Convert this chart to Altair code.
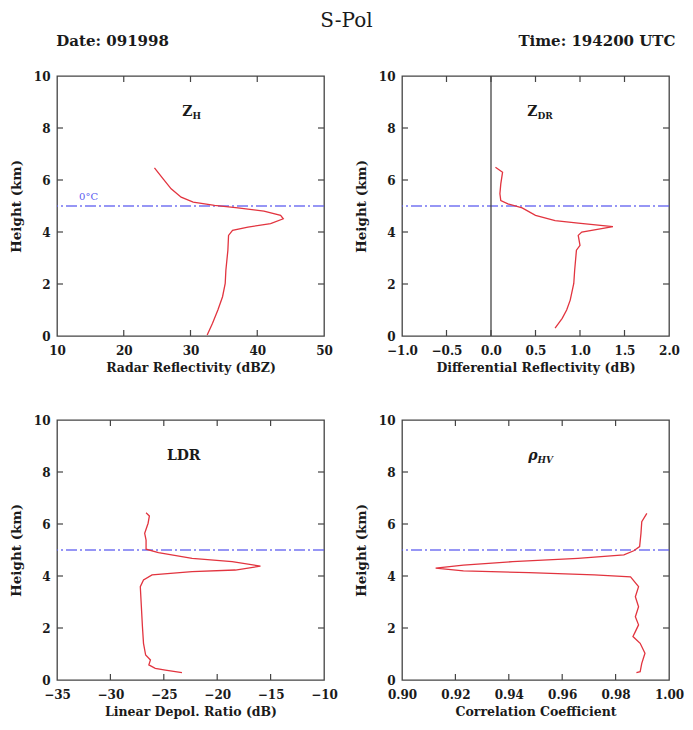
import altair as alt
import pandas as pd

# ---------------- data ----------------
zh_height = [6.47, 6.04, 5.66, 5.34, 5.15, 5.02, 4.93, 4.80, 4.64, 4.51, 4.32, 4.19, 4.06, 3.87, 3.30, 2.53, 2.02, 1.51, 1.00, 0.49, 0.04]
zh_value = [24.6, 25.9, 27.1, 28.6, 30.4, 33.6, 37.1, 41.0, 43.5, 43.9, 42.0, 38.6, 36.3, 35.7, 35.6, 35.3, 35.2, 34.8, 34.1, 33.3, 32.5]

zdr_height = [6.49, 6.30, 5.85, 5.47, 5.21, 5.08, 4.93, 4.64, 4.44, 4.34, 4.21, 4.00, 3.87, 3.49, 3.30, 2.53, 2.02, 1.38, 1.00, 0.68, 0.30]
zdr_value = [0.05, 0.13, 0.11, 0.10, 0.11, 0.19, 0.35, 0.50, 0.72, 0.98, 1.37, 1.02, 0.98, 1.00, 0.96, 0.94, 0.93, 0.89, 0.85, 0.80, 0.72]

ldr_height = [6.43, 6.31, 6.03, 5.64, 5.38, 5.03, 4.90, 4.68, 4.55, 4.38, 4.23, 4.17, 4.04, 3.85, 3.59, 2.82, 2.05, 1.41, 0.96, 0.77, 0.58, 0.45, 0.38, 0.28]
ldr_value = [-26.66, -26.35, -26.47, -26.79, -26.66, -26.66, -25.5, -22.35, -18.6, -15.95, -18.3, -22.35, -26.1, -26.9, -27.2, -27.1, -27.0, -26.9, -26.7, -26.25, -26.4, -25.8, -24.85, -23.3]

rho_height = [6.41, 6.09, 5.64, 5.13, 4.97, 4.81, 4.68, 4.55, 4.42, 4.30, 4.20, 4.13, 4.04, 3.97, 3.59, 3.20, 2.82, 2.43, 2.12, 1.86, 1.67, 1.41, 1.03, 0.64, 0.32, 0.28]
rho_value = [0.9917, 0.9898, 0.9895, 0.9890, 0.9868, 0.9831, 0.9659, 0.9414, 0.9230, 0.9126, 0.9230, 0.9475, 0.9720, 0.9856, 0.9886, 0.9874, 0.9886, 0.9874, 0.9886, 0.9874, 0.9865, 0.9892, 0.9910, 0.9898, 0.9892, 0.9878]

height_ticks = [0, 2, 4, 6, 8, 10]
zh_ticks = [10, 20, 30, 40, 50]
zdr_ticks = [-1.0, -0.5, 0.0, 0.5, 1.0, 1.5, 2.0]
ldr_ticks = [-35, -30, -25, -20, -15, -10]
rho_ticks = [0.90, 0.92, 0.94, 0.96, 0.98, 1.00]

freezing_level = 5.0

title_text = "S-Pol"
date_text = "Date: 091998"
time_text = "Time: 194200 UTC"

# ---------------- style ----------------
W, H = 267, 260
FONT = "DejaVu Serif"
RED = "#e2343f"
BLUE = "#5a5cf0"
INK = "#444444"
TXT = "#1a1a1a"
TICK_PX = 6


def tick_frame(xmin, xmax, xticks, yticks):
    lx = (xmax - xmin) * TICK_PX / W
    ly = 10 * TICK_PX / H
    rows = []
    for v in xticks[1:-1]:
        rows.append(dict(x=v, x2=v, y=0, y2=ly))
        rows.append(dict(x=v, x2=v, y=10, y2=10 - ly))
    for v in yticks[1:-1]:
        rows.append(dict(x=xmin, x2=xmin + lx, y=v, y2=v))
        rows.append(dict(x=xmax, x2=xmax - lx, y=v, y2=v))
    return pd.DataFrame(rows)


def panel(values, heights, xticks, xfmt, xtitle, label, sub, italic=False,
          zero_line=False, freeze_label=False, title=None):
    xmin, xmax = xticks[0], xticks[-1]
    xs = alt.Scale(domain=[xmin, xmax], nice=False, zero=False)
    ys = alt.Scale(domain=[0, 10], nice=False, zero=False)
    xax = alt.Axis(values=xticks, format=xfmt, title=xtitle, ticks=False, domain=False,
                   grid=False, labelPadding=9, titlePadding=5, labelFont=FONT,
                   titleFont=FONT, labelFontSize=12, titleFontSize=12.5,
                   labelFontWeight="bold", titleFontWeight="bold",
                   labelColor=TXT, titleColor=TXT,
                   labelFlush=False, labelOverlap=False)
    yax = alt.Axis(values=height_ticks, format="d", title="Height (km)", ticks=False,
                   domain=False, grid=False, labelPadding=7, titlePadding=10,
                   labelFont=FONT, titleFont=FONT, labelFontSize=12, titleFontSize=13.5,
                   labelFontWeight="bold", titleFontWeight="bold",
                   labelColor=TXT, titleColor=TXT, labelFlush=False)
    X = lambda f: alt.X(f, scale=xs, axis=xax)
    Y = lambda f: alt.Y(f, scale=ys, axis=yax)

    df = pd.DataFrame({"x": values, "y": heights, "idx": range(len(values))})
    line = alt.Chart(df).mark_line(color=RED, strokeWidth=1.3).encode(
        x=X("x:Q"), y=Y("y:Q"), order="idx:Q")

    tdf = tick_frame(xmin, xmax, xticks, height_ticks)
    ticks = alt.Chart(tdf).mark_rule(color=INK, strokeWidth=1.2).encode(
        x=X("x:Q"), x2="x2:Q", y=Y("y:Q"), y2="y2:Q")

    fdf = pd.DataFrame({"y": [freezing_level]})
    freeze = alt.Chart(fdf).mark_rule(color=BLUE, strokeWidth=1.4, opacity=0.85,
                                      strokeDash=[11, 3, 2, 3]).encode(y=Y("y:Q"))

    lab = pd.DataFrame({"a": [0]})
    main_txt = alt.Chart(lab).mark_text(
        text=label, font=FONT, fontSize=14, align="right", baseline="alphabetic",
        fontStyle="italic" if italic else "normal", fontWeight="bold", color=TXT
    ).encode(x=alt.value(W / 2 + (2 if sub else 10)), y=alt.value(40))
    layers = [freeze, line, ticks, main_txt]
    if sub:
        sub_txt = alt.Chart(lab).mark_text(
            text=sub, font=FONT, fontSize=9, align="left", baseline="alphabetic",
            fontStyle="italic" if italic else "normal", fontWeight="bold", color=TXT
        ).encode(x=alt.value(W / 2 + 2), y=alt.value(43))
        layers.append(sub_txt)
    if zero_line:
        zdf = pd.DataFrame({"x": [0.0]})
        layers.append(alt.Chart(zdf).mark_rule(color=INK, strokeWidth=1.3).encode(x=X("x:Q")))
    if freeze_label:
        ldf = pd.DataFrame({"x": [13.3], "y": [freezing_level + 0.15], "t": ["0°C"]})
        layers.append(alt.Chart(ldf).mark_text(
            font=FONT, fontSize=10, color=BLUE, align="left", baseline="bottom"
        ).encode(x=X("x:Q"), y=Y("y:Q"), text="t:N"))
    ch = alt.layer(*layers).properties(width=W, height=H)
    if title is not None:
        ch = ch.properties(title=title)
    return ch


p1 = panel(zh_value, zh_height, zh_ticks, "d", "Radar Reflectivity (dBZ)", "Z", "H",
           freeze_label=True,
           title=alt.TitleParams(date_text, anchor="start", font=FONT, fontSize=15,
                                 fontWeight="bold", offset=21, dx=47, color=TXT))
p2 = panel(zdr_value, zdr_height, zdr_ticks, ".1f", "Differential Reflectivity (dB)", "Z", "DR",
           zero_line=True,
           title=alt.TitleParams(time_text, anchor="end", font=FONT, fontSize=15,
                                 fontWeight="bold", offset=21, dx=-4, color=TXT))
p3 = panel(ldr_value, ldr_height, ldr_ticks, "d", "Linear Depol. Ratio (dB)", "LDR", "")
p4 = panel(rho_value, rho_height, rho_ticks, ".2f", "Correlation Coefficient", "ρ", "HV",
           italic=True)

chart = alt.concat(p1, p2, p3, p4, columns=2, spacing={"row": 84, "column": 78},
                   bounds="flush").properties(
    title=alt.TitleParams(title_text, anchor="middle", font=FONT, fontSize=20,
                          fontWeight="normal", color=TXT, offset=2),
    padding={"left": 0, "top": 3, "right": 0, "bottom": 0},
    background="white",
).configure_view(stroke=INK, strokeWidth=1.3)

chart.save("out.html", embed_options={"renderer": "svg", "actions": False})
